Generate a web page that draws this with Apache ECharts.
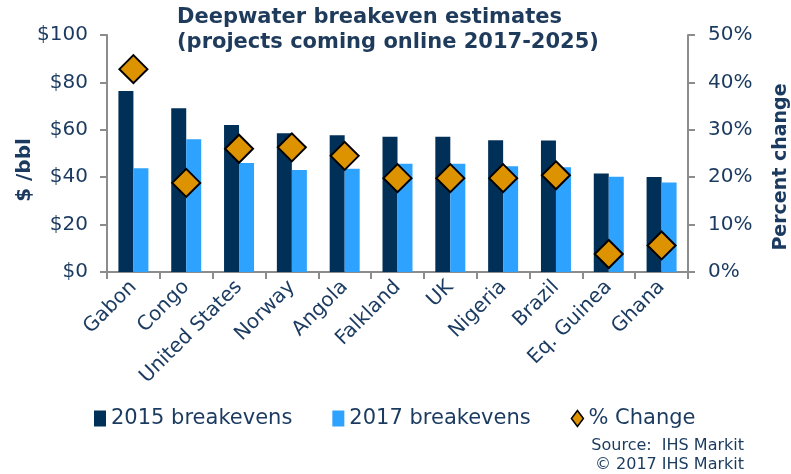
<!DOCTYPE html>
<html>
<head>
<meta charset="utf-8">
<script src="https://cdn.jsdelivr.net/npm/echarts@6/dist/echarts.min.js"></script>
<style>
html,body{margin:0;padding:0;background:#fff;}
#chart{width:791px;height:474px;}
</style>
</head>
<body>
<div id="chart"></div>
<script>
const categories = ['Gabon','Congo','United States','Norway','Angola','Falkland','UK','Nigeria','Brazil','Eq. Guinea','Ghana'];
const breakevens2015 = [76.4, 69.1, 62.0, 58.5, 57.7, 57.1, 57.1, 55.6, 55.5, 41.6, 40.1];
const breakevens2017 = [43.8, 56.0, 46.0, 43.0, 43.6, 45.7, 45.7, 44.6, 44.2, 40.2, 37.8];
const pctChange = [42.8, 18.8, 26.0, 26.3, 24.5, 19.8, 19.8, 19.8, 20.4, 3.8, 5.6];
const leftTicks = [0, 20, 40, 60, 80, 100];
const rightTicks = [0, 10, 20, 30, 40, 50];

const FONT = "'DejaVu Sans', Verdana, sans-serif";
const TXT = '#1A3A5F';
const AXIS = '#8C8C8C';

const chart = echarts.init(document.getElementById('chart'));
chart.setOption({
  animation: false,
  textStyle: { fontFamily: FONT, color: TXT },
  title: {
    text: 'Deepwater breakeven estimates\n(projects coming online 2017-2025)',
    left: 177, top: 5, padding: 0,
    textStyle: { fontFamily: FONT, fontSize: 21, fontWeight: 'bold', color: '#1F3B5C', lineHeight: 25 }
  },
  legend: {
    left: 94, top: 408, padding: 0,
    itemGap: 40,
    itemWidth: 12, itemHeight: 16,
    textStyle: { fontFamily: FONT, fontSize: 21, color: TXT },
    data: [
      { name: '2015 breakevens', icon: 'rect' },
      { name: '2017 breakevens', icon: 'rect' },
      { name: '% Change', icon: 'diamond', itemStyle: { borderWidth: 1.5, borderColor: '#000' } }
    ]
  },
  graphic: [
    { type: 'text', x: 25, y: 170, rotation: Math.PI / 2,
      style: { text: '$ /bbl', font: 'bold 20px ' + FONT, fill: TXT, align: 'center', verticalAlign: 'middle' } },
    { type: 'text', x: 781, y: 167, rotation: Math.PI / 2,
      style: { text: 'Percent change', font: 'bold 19px ' + FONT, fill: TXT, align: 'center', verticalAlign: 'middle' } },
    { type: 'text', right: 47, top: 438, style: { text: 'Source:  IHS Markit', font: '16px ' + FONT, fill: TXT } },
    { type: 'text', right: 47, top: 457, style: { text: '\u00A9 2017 IHS Markit', font: '16px ' + FONT, fill: TXT } }
  ],
  grid: { left: 107, right: 103, top: 35, bottom: 202, containLabel: false },
  xAxis: {
    type: 'category',
    data: categories,
    axisLine: { lineStyle: { color: AXIS, width: 2 } },
    axisTick: { show: true, length: 7, lineStyle: { color: AXIS, width: 2 } },
    axisLabel: { rotate: 45, fontSize: 20, color: TXT, margin: 12, interval: 0, fontFamily: FONT }
  },
  yAxis: [
    {
      type: 'value', min: leftTicks[0], max: leftTicks[leftTicks.length - 1], interval: 20,
      axisLine: { show: true, lineStyle: { color: AXIS, width: 2 } },
      axisTick: { show: true, length: 7, lineStyle: { color: AXIS, width: 2 } },
      splitLine: { show: false },
      axisLabel: { formatter: '${value}', fontSize: 20, color: TXT, margin: 19, fontFamily: FONT }
    },
    {
      type: 'value', min: rightTicks[0], max: rightTicks[rightTicks.length - 1], interval: 10,
      axisLine: { show: true, lineStyle: { color: AXIS, width: 2 } },
      axisTick: { show: true, length: 7, lineStyle: { color: AXIS, width: 2 } },
      splitLine: { show: false },
      axisLabel: { formatter: '{value}%', fontSize: 20, color: TXT, margin: 20, fontFamily: FONT }
    }
  ],
  series: [
    { name: '2015 breakevens', type: 'bar', data: breakevens2015, barWidth: 15, barGap: '0%',
      itemStyle: { color: '#003057' } },
    { name: '2017 breakevens', type: 'bar', data: breakevens2017, barWidth: 15, barGap: '0%',
      itemStyle: { color: '#2EA2FF' } },
    { name: '% Change', type: 'scatter', yAxisIndex: 1, data: pctChange, symbol: 'diamond', symbolSize: 28,
      itemStyle: { color: '#DD9200', borderColor: '#000', borderWidth: 2, opacity: 1 }, z: 5 }
  ]
});
</script>
</body>
</html>
